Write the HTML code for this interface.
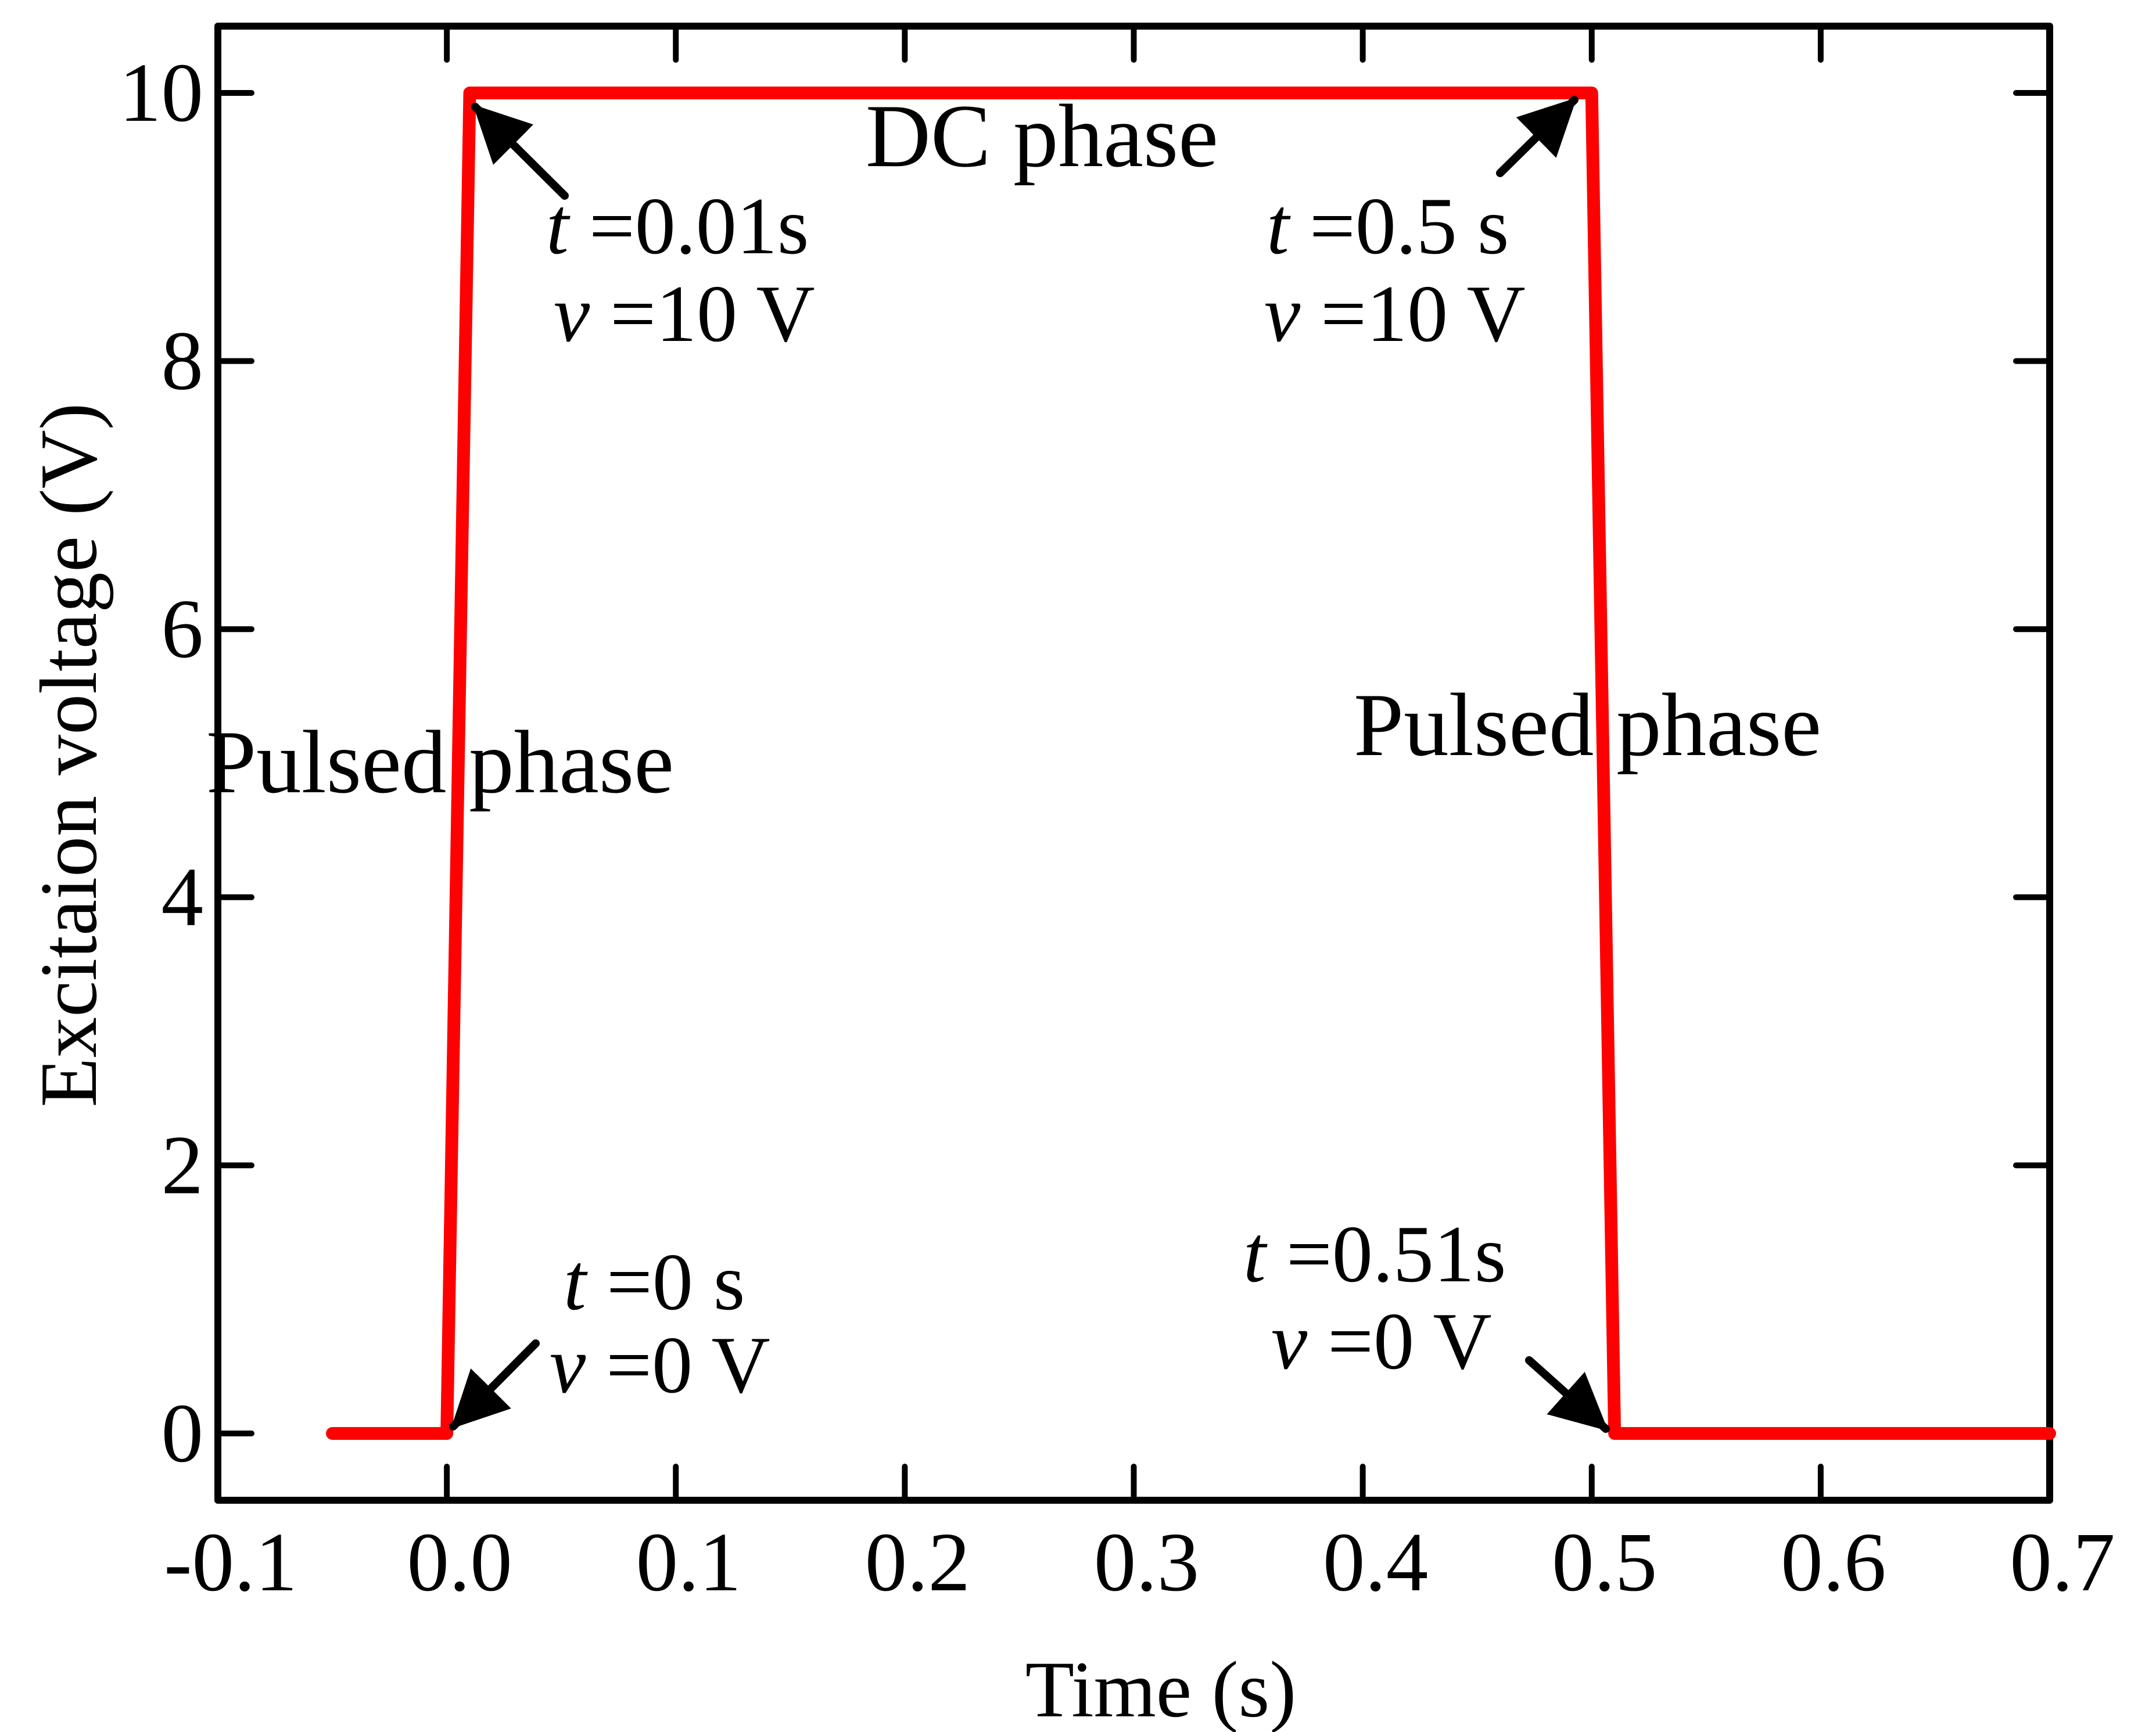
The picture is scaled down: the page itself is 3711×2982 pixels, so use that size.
<!DOCTYPE html>
<html><head><meta charset="utf-8"><style>
html,body{margin:0;padding:0;background:#fff}
svg{display:block}
text{font-family:"Liberation Serif",serif;fill:#000}
</style></head><body>
<svg id="chart" width="3711" height="2982" viewBox="0 0 3711 2982" xmlns="http://www.w3.org/2000/svg">
<defs>
<marker id="ah" markerWidth="7" markerHeight="7" refX="6.6" refY="3.5" orient="auto" markerUnits="strokeWidth">
<path d="M0,0 L7,3.5 L0,7 Z" fill="#000"/>
</marker>
</defs>
<g id="axes"></g>
<g id="series"></g>
<g id="annots" font-size="140">
<text x="1490" y="286" font-size="155">DC phase</text>
<text x="355" y="1364" font-size="155">Pulsed phase</text>
<text x="2330" y="1300" font-size="155">Pulsed phase</text>
<text x="940" y="436"><tspan font-style="italic">t</tspan> =0.01s</text>
<text x="953" y="587"><tspan font-style="italic">v</tspan> =10 V</text>
<text x="2180" y="436"><tspan font-style="italic">t</tspan> =0.5 s</text>
<text x="2176" y="587"><tspan font-style="italic">v</tspan> =10 V</text>
<text x="970" y="2254"><tspan font-style="italic">t</tspan> =0 s</text>
<text x="946" y="2397"><tspan font-style="italic">v</tspan> =0 V</text>
<text x="2140" y="2206"><tspan font-style="italic">t</tspan> =0.51s</text>
<text x="2188" y="2356"><tspan font-style="italic">v</tspan> =0 V</text>
</g>
<g stroke="#000" stroke-width="14" stroke-linecap="round" marker-end="url(#ah)">
<line x1="972" y1="337" x2="818" y2="184"/>
<line x1="2582" y1="298" x2="2710" y2="172"/>
<line x1="922" y1="2313" x2="780" y2="2456"/>
<line x1="2632" y1="2342" x2="2764" y2="2460"/>
</g>
<text x="1998" y="2955" font-size="138" text-anchor="middle">Time (s)</text>
<text transform="translate(165,1300) rotate(-90)" font-size="140" text-anchor="middle">Excitaion voltage (V)</text>
</svg>
<script>
const xTicks = [-0.1, 0.0, 0.1, 0.2, 0.3, 0.4, 0.5, 0.6, 0.7];
const xTickLabels = ["-0.1","0.0","0.1","0.2","0.3","0.4","0.5","0.6","0.7"];
const yTicks = [0, 2, 4, 6, 8, 10];
const yTickLabels = ["0","2","4","6","8","10"];
const timeValues = [-0.05, 0.0, 0.01, 0.5, 0.51, 0.7];
const voltageValues = [0, 0, 10, 10, 0, 0];

const NS = "http://www.w3.org/2000/svg";
const L = 375, R = 3528, T = 45, B = 2583;
function sx(v){ return L + (v - (-0.1)) / 0.8 * (R - L); }
function sy(v){ return 2468 - v * 230.8; }
function mk(tag, attrs, parent){
  const e = document.createElementNS(NS, tag);
  for (const k in attrs) e.setAttribute(k, attrs[k]);
  parent.appendChild(e);
  return e;
}
const axes = document.getElementById("axes");
const frame = mk("rect", {x:L, y:T, width:R-L, height:B-T, fill:"none", stroke:"#000", "stroke-width":12, "stroke-linejoin":"round"}, axes);


xTicks.forEach((v, i) => {
  const x = sx(v);
  const t1 = mk("line", {x1:x, y1:B, x2:x, y2:B-58, stroke:"#000", "stroke-width":10, "stroke-linecap":"round"}, axes);
  
  
  const t2 = mk("line", {x1:x, y1:T, x2:x, y2:T+58, stroke:"#000", "stroke-width":10, "stroke-linecap":"round"}, axes);
  
  
  const lb = mk("text", {x:x+22, y:2738, "font-size":145, "text-anchor":"middle"}, axes);
  lb.textContent = xTickLabels[i];
  
  
});
yTicks.forEach((v, i) => {
  const y = sy(v);
  const t1 = mk("line", {x1:L, y1:y, x2:L+58, y2:y, stroke:"#000", "stroke-width":10, "stroke-linecap":"round"}, axes);
  
  
  const t2 = mk("line", {x1:R, y1:y, x2:R-58, y2:y, stroke:"#000", "stroke-width":10, "stroke-linecap":"round"}, axes);
  
  
  const lb = mk("text", {x:350, y:y+48, "font-size":145, "text-anchor":"end"}, axes);
  lb.textContent = yTickLabels[i];
  
  
});
const pts = timeValues.map((t, i) => sx(t) + "," + sy(voltageValues[i])).join(" ");
const line = mk("polyline", {points:pts, fill:"none", stroke:"#ff0000", "stroke-width":22, "stroke-linecap":"round", "stroke-linejoin":"round"}, document.getElementById("series"));


</script>
</body></html>
